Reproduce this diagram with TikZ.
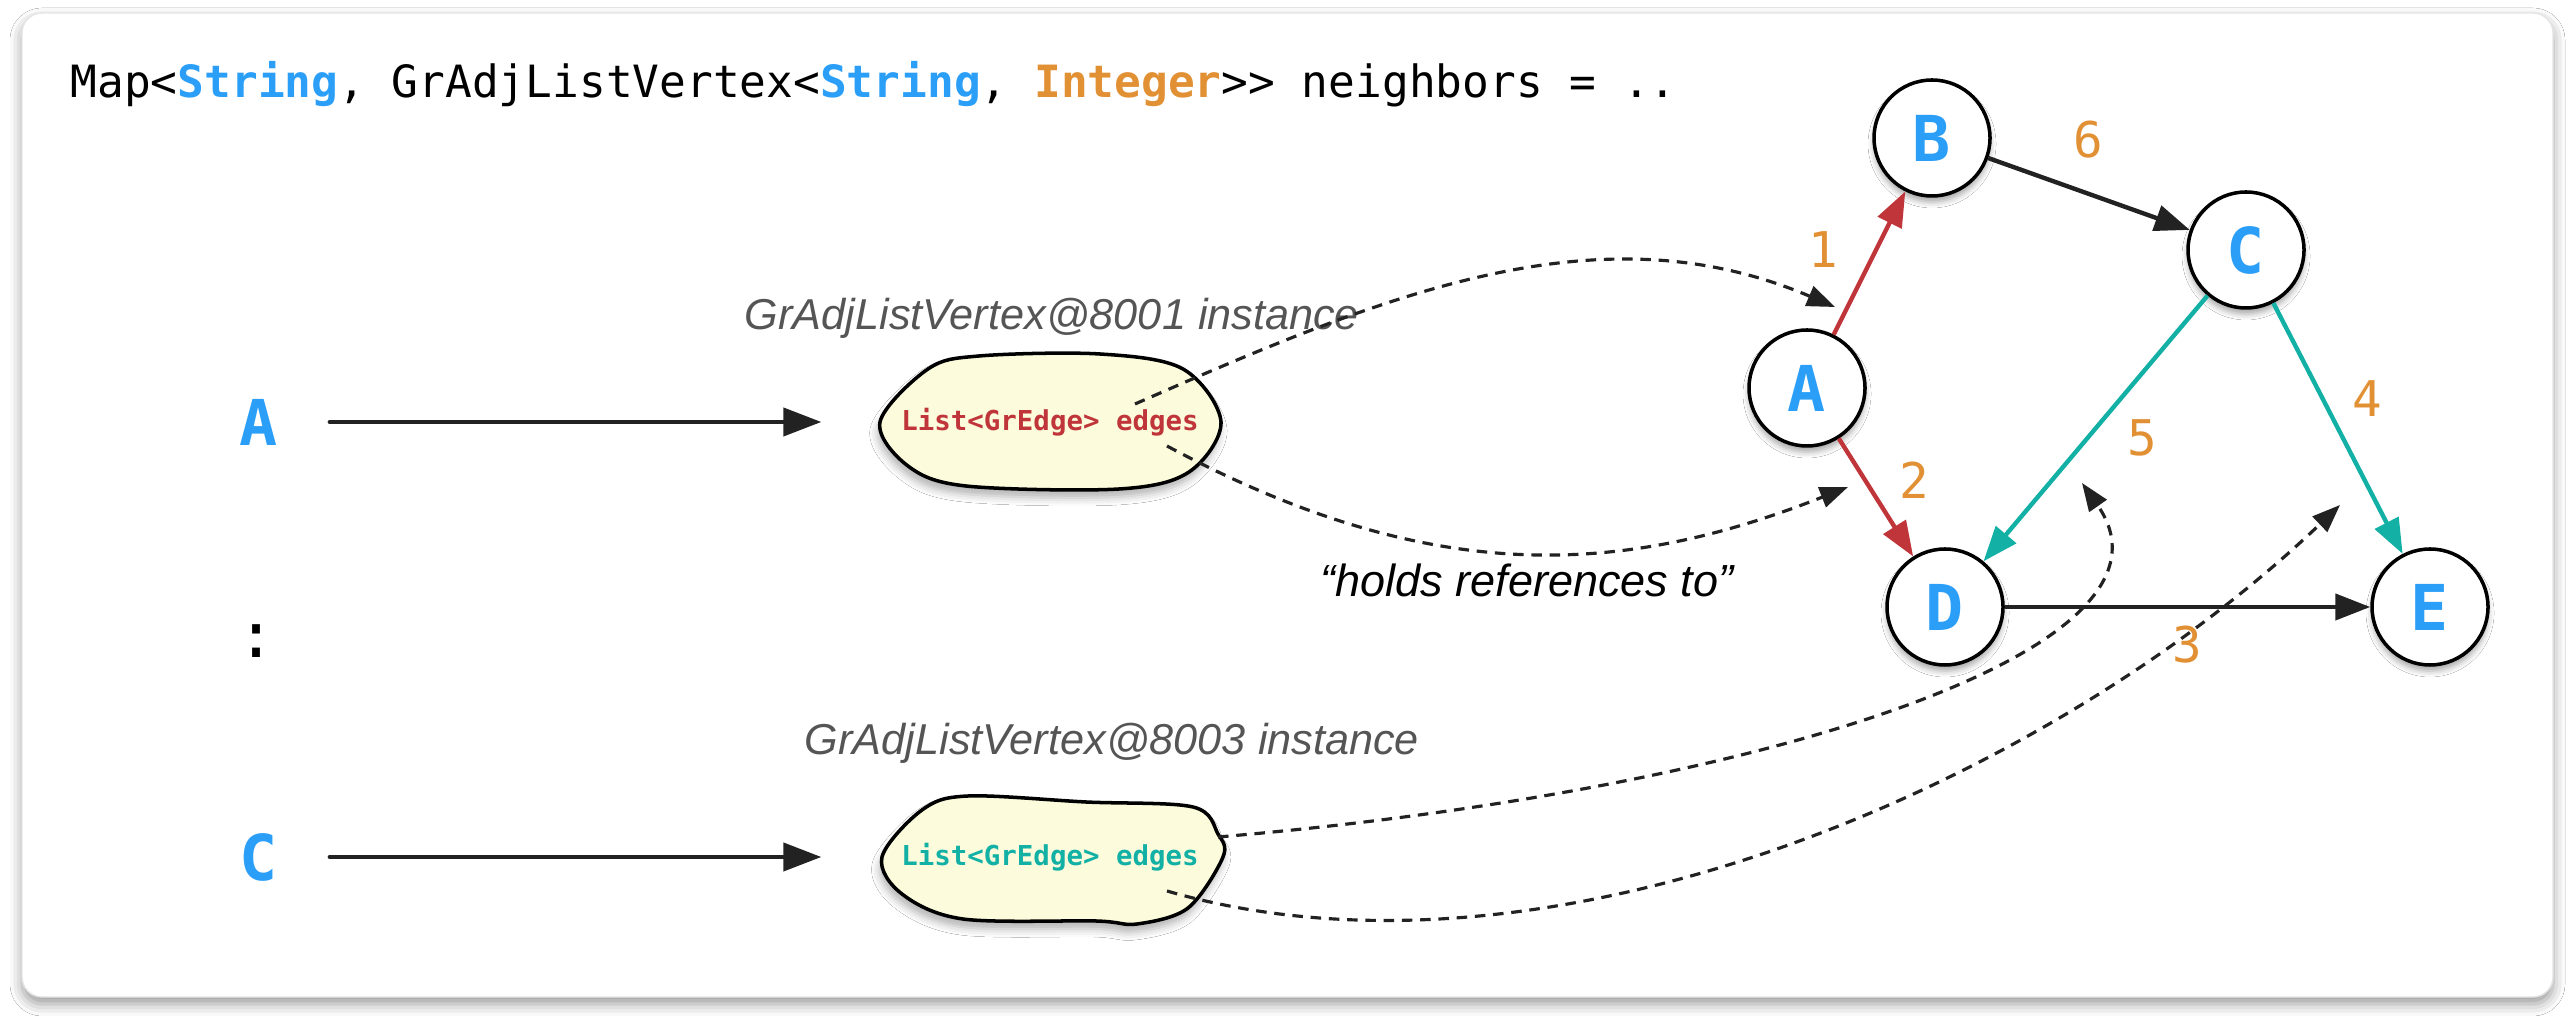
\documentclass[tikz,border=0pt]{standalone}
\usepackage{fontspec}
\setmainfont{Liberation Sans}
\setsansfont{Liberation Sans}
\setmonofont{DejaVu Sans Mono}
\usepackage{xcolor}
\definecolor{KeyBlue}{HTML}{2B9FF8}
\definecolor{WeightOrange}{HTML}{E29034}
\definecolor{EdgeRed}{HTML}{C0353A}
\definecolor{EdgeTeal}{HTML}{12B0A5}
\definecolor{LabelGray}{HTML}{555555}
\definecolor{BlobYellow}{HTML}{FCFCDC}
\definecolor{InkBlack}{HTML}{222222}
\usetikzlibrary{arrows.meta, positioning, calc, shadows, shadows.blur}
\tikzset{
  % Box styles
  card/.style={rounded corners=0.2cm, fill=white, draw=black!10, blur shadow={shadow xshift=0pt, shadow yshift=-0.07cm, shadow blur radius=0.12cm, shadow opacity=40}},
  blob/.style={draw=black, line width=1pt, fill=BlobYellow, blur shadow={shadow xshift=-0.02cm, shadow yshift=-0.08cm, shadow blur radius=0.08cm, shadow opacity=30}},
  % Node styles
  vertex/.style={circle, draw=black, line width=1pt, fill=white, minimum size=1.16cm, inner sep=0pt, text=KeyBlue, font=\fontsize{18}{19}\selectfont\ttfamily\bfseries, blur shadow={shadow xshift=0pt, shadow yshift=-0.06cm, shadow blur radius=0.06cm, shadow opacity=35}},
  keylabel/.style={text=KeyBlue, font=\fontsize{18}{20}\selectfont\ttfamily\bfseries, inner sep=0.1cm},
  edgetext/.style={font=\fontsize{7.8}{9}\selectfont\ttfamily\bfseries, minimum width=3.4cm, inner sep=0pt},
  weight/.style={text=WeightOrange, font=\fontsize{14}{16}\selectfont\ttfamily},
  caption/.style={text=LabelGray, font=\fontsize{12.3}{14}\selectfont\sffamily\itshape},
  codeline/.style={font=\fontsize{12.65}{15}\selectfont\ttfamily, inner sep=0pt},
  % Arrow styles
  keyarrow/.style={-{Triangle[length=0.38cm, width=0.28cm]}, line width=1.2pt, line cap=round, InkBlack},
  graphedge/.style={-{Triangle[length=0.35cm, width=0.26cm]}, line width=1.25pt},
  refline/.style={-{Triangle[length=0.28cm, width=0.21cm]}, dash pattern=on 3pt off 2.2pt, line width=0.9pt, InkBlack}
}

\begin{document}
\begin{tikzpicture}
  \useasboundingbox (0,0) rectangle (25.72,10.22);
  \fill[white] (0,0) rectangle (25.72,10.22);

  % Card
  \draw[card] (0.22,0.25) rectangle (25.53,10.09);

  % Declaration
  \node[codeline, anchor=base west] (decl) at (0.70,9.24) {Map<{\color{KeyBlue}\bfseries String}, GrAdjListVertex<{\color{KeyBlue}\bfseries String}, {\color{WeightOrange}\bfseries Integer}>> neighbors = ..};

  % Map keys
  \node[keylabel] (keyA) at (2.59,6.0) {A};
  \node[font=\fontsize{18}{20}\selectfont\ttfamily] (dots) at (2.57,3.81) {:};
  \node[keylabel] (keyC) at (2.59,1.65) {C};

  % Vertex instances
  \coordinate (blobA) at (10.50,6.0);
  \coordinate (blobC) at (10.50,1.65);
  \draw[blob, shift={(blobA)}] plot[smooth cycle, tension=0.55] coordinates {(-1.70,0) (-1.22,0.53) (-0.71,0.66) (0.50,0.68) (1.33,0.53) (1.71,0) (1.39,-0.50) (0.69,-0.67) (-0.84,-0.64) (-1.42,-0.44)};
  \draw[blob, shift={(blobC)}] plot[smooth cycle, tension=0.55] coordinates {(-1.68,0) (-1.28,0.47) (-0.82,0.61) (0.36,0.55) (1.43,0.50) (1.68,0.23) (1.73,0) (1.38,-0.51) (0.87,-0.67) (0.46,-0.64) (-0.87,-0.62) (-1.48,-0.37)};
  \node[edgetext, text=EdgeRed] (edgesA) at (blobA) {List<GrEdge> edges};
  \node[edgetext, text=EdgeTeal] (edgesC) at (blobC) {List<GrEdge> edges};

  \node[caption, anchor=base] (instA) at (10.52,6.92) {GrAdjListVertex@8001 instance};
  \node[caption, anchor=base] (instC) at (11.12,2.67) {GrAdjListVertex@8003 instance};
  \node[caption, text=black, font=\fontsize{12.8}{15}\selectfont\sffamily\itshape, anchor=base] (holds) at (15.27,4.25) {“holds references to”};

  \draw[keyarrow, shorten <=0.41cm, shorten >=0.58cm] (keyA) -- (edgesA);
  \draw[keyarrow, shorten <=0.41cm, shorten >=0.58cm] (keyC) -- (edgesC);

  % Graph
  \node[vertex] (vA) at (18.07,6.34) {A};
  \node[vertex] (vB) at (19.32,8.84) {B};
  \node[vertex] (vC) at (22.46,7.72) {C};
  \node[vertex] (vD) at (19.45,4.15) {D};
  \node[vertex] (vE) at (24.30,4.15) {E};

  \draw[graphedge, EdgeRed] (vA) -- (vB);
  \draw[graphedge, EdgeRed] (vA) -- (vD);
  \draw[graphedge, InkBlack] (vB) -- (vC);
  \draw[graphedge, EdgeTeal] (vC) -- (vD);
  \draw[graphedge, EdgeTeal] (vC) -- (vE);
  \draw[graphedge, InkBlack] (vD) -- (vE);

  % Weights
  \node[weight] (w1) at (18.23,7.72) {1};
  \node[weight] (w2) at (19.14,5.42) {2};
  \node[weight] (w3) at (21.87,3.77) {3};
  \node[weight] (w4) at (23.67,6.23) {4};
  \node[weight] (w5) at (21.42,5.84) {5};
  \node[weight] (w6) at (20.88,8.82) {6};

  % References to edges
  \coordinate (outA1) at ([shift={(0.85,0.18)}]edgesA.center);
  \coordinate (outA2) at ([shift={(1.17,-0.24)}]edgesA.center);
  \coordinate (outC1) at ([shift={(1.68,0.20)}]edgesC.center);
  \coordinate (outC2) at ([shift={(1.17,-0.34)}]edgesC.center);
  \coordinate (refAB) at (18.35,7.15);
  \coordinate (refAD) at (18.48,5.35);
  \coordinate (refCD) at (20.82,5.39);
  \coordinate (refCE) at (23.40,5.17);

  \draw[refline] (outA1) .. controls (13.9,7.3) and (16.0,8.15) .. (refAB);
  \draw[refline] (outA2) .. controls (14.3,4.35) and (16.2,4.45) .. (refAD);
  \draw[refline] (outC1) .. controls (17.5,2.3) and (22.0,3.7) .. (refCD);
  \draw[refline] (outC2) .. controls (15.5,0.2) and (20.5,2.4) .. (refCE);
\end{tikzpicture}
\end{document}
